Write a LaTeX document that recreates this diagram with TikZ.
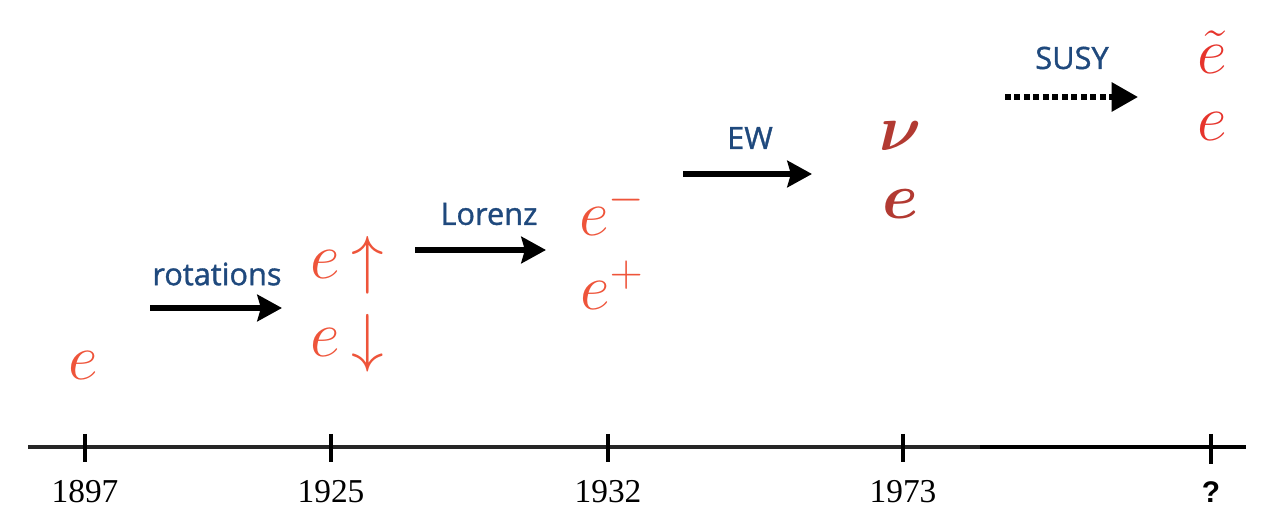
\RequirePackage{fix-cm}
\documentclass[tikz,border=0pt]{standalone}
\usepackage{fontspec}
\setmainfont{Liberation Serif}
\newfontfamily\labelfont{Open Sans}[FakeBold=1.2]
\newfontfamily\qfont{Liberation Sans}
\usepackage{bm}
\usetikzlibrary{arrows.meta}

\definecolor{stepblue}{RGB}{31,73,125}
\definecolor{eorange}{RGB}{238,84,58}
\definecolor{edark}{RGB}{178,58,50}
\definecolor{ered}{RGB}{230,52,44}

\begin{document}
\begin{tikzpicture}[x=0.02cm, y=-0.02cm,
  yearlab/.style={font=\fontsize{19}{22}\selectfont},
  steplab/.style={font=\labelfont\fontsize{17.5}{20}\selectfont, text=stepblue},
  particle/.style={font=\fontsize{37}{44}\selectfont, text=eorange, inner sep=0pt},
  steparrow/.style={line width=3.8pt, -{Stealth[length=14pt, width=15pt, inset=2pt]}}]
  \useasboundingbox (0,0) rectangle (1282,526);

  % time axis
  \draw[line width=2.3pt, black!85] (28,447) -- (980,447);
  \draw[line width=2.8pt] (980,447) -- (1246,447);
  \foreach \x/\yr/\nm in {85/1897/y1, 331/1925/y2, 608/1932/y3, 903/1973/y4} {
    \draw[line width=2pt] (\x,434) -- (\x,462);
    \node[yearlab] (\nm) at (\x,492) {\yr};
  }
  \draw[line width=2.4pt] (1211,434) -- (1211,464);
  \node[font=\qfont\bfseries\fontsize{17}{20}\selectfont] (y5) at (1211,492) {?};

  % particles
  \node[particle] (e0) at (83,366) {$e$};
  \node[particle] (eup) at (325,265) {$e$};
  \node[particle] (spinup) at (368,265) {$\uparrow$};
  \node[particle] (edown) at (325,343) {$e$};
  \node[particle] (spindown) at (368,343) {$\downarrow$};
  \node[particle] (eminus) at (612,210) {$e^-$};
  \node[particle] (eplus) at (612,285) {$e^+$};
  \node[particle, text=edark] (nu) at (900,136) {$\bm{\nu}$};
  \node[particle, text=edark] (ew) at (900,204) {$\bm{e}$};
  \node[particle, text=ered] (eslep) at (1212,52) {$\tilde{e}$};
  \node[particle, text=ered] (esusy) at (1212,127) {$e$};

  % steps
  \coordinate (rotS) at (150,308);  \coordinate (rotE) at (282,308);
  \coordinate (lorS) at (415,250);  \coordinate (lorE) at (546,250);
  \coordinate (ewS) at (683,174);   \coordinate (ewE) at (812,174);
  \coordinate (susyS) at (1005,97); \coordinate (susyE) at (1138,97);
  \draw[steparrow] (rotS) -- (rotE);
  \draw[steparrow] (lorS) -- (lorE);
  \draw[steparrow] (ewS) -- (ewE);
  \draw[line width=3.2pt, dash pattern=on 3.2pt off 2.2pt,
        -{Triangle[length=15pt, width=16pt]}] (susyS) -- (susyE);
  \node[steplab] (rot) at (217,274) {rotations};
  \node[steplab] (lor) at (489,214) {Lorenz};
  \node[steplab] (ewlab) at (750,138) {EW};
  \node[steplab] (susy) at (1072,58) {SUSY};
\end{tikzpicture}
\end{document}
